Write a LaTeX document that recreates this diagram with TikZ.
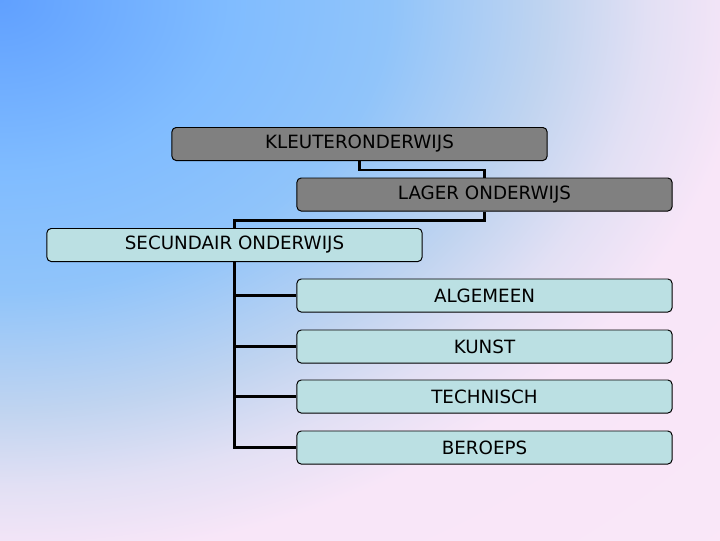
\documentclass[tikz,border=0pt]{standalone}
\usepackage{fontspec}
\setmainfont{DejaVu Sans}
\usepackage{tikz}
\usepackage{xcolor}

\definecolor{bgA}{HTML}{60A0FF}
\definecolor{bgB}{HTML}{80BCFF}
\definecolor{bgC}{HTML}{90C4FA}
\definecolor{bgD}{HTML}{C0D4F0}
\definecolor{bgE}{HTML}{E2E0F4}
\definecolor{bgF}{HTML}{F8E6F8}
\definecolor{bgG}{HTML}{FCE8F8}
\definecolor{schoolgray}{HTML}{808080}
\definecolor{schoolcyan}{HTML}{BBE0E3}
\pgfdeclareradialshading{bgshade}{\pgfpoint{0bp}{0bp}}{color(0bp)=(bgA); color(8bp)=(bgB); color(13.5bp)=(bgC); color(19bp)=(bgD); color(22.5bp)=(bgE); color(26bp)=(bgF); color(50bp)=(bgG)}

\tikzset{
  level/.style={draw=black, line width=0.7pt, rounded corners=3pt, minimum width=9.375cm, minimum height=0.825cm, inner sep=0pt, font=\fontsize{13}{15}\selectfont},
  grijs/.style={level, fill=schoolgray},
  lichtblauw/.style={level, fill=schoolcyan},
  verbind/.style={line width=2.1pt, draw=black}
}

\begin{document}
\begin{tikzpicture}[x=0.025cm, y=0.025cm]
  \useasboundingbox (0,0) rectangle (720,-540);
  % achtergrond
  \begin{scope}
    \clip (0,0) rectangle (720,-540);
    \shade[shading=bgshade] (-720,-540) rectangle (720,540);
  \end{scope}

  \node[grijs] (kleuter) at (359.5,-144) {KLEUTERONDERWIJS};
  \node[grijs] (lager) at (484.5,-194.5) {LAGER ONDERWIJS};
  \node[lichtblauw] (secundair) at (234.5,-245) {SECUNDAIR ONDERWIJS};
  \node[lichtblauw] (algemeen) at (484.5,-295.5) {ALGEMEEN};
  \node[lichtblauw] (kunst) at (484.5,-346.5) {KUNST};
  \node[lichtblauw] (technisch) at (484.5,-396.5) {TECHNISCH};
  \node[lichtblauw] (beroeps) at (484.5,-447.5) {BEROEPS};

  % lijnen
  \draw[verbind] (kleuter.south) -- ++(0,-9) -| (lager.north);
  \draw[verbind] (lager.south) -- ++(0,-9) -| (secundair.north);
  \draw[verbind] (secundair.south) |- (beroeps.west);
  \foreach \n in {algemeen,kunst,technisch}
    \draw[verbind] (secundair.south |- \n.west) -- (\n.west);
\end{tikzpicture}
\end{document}
